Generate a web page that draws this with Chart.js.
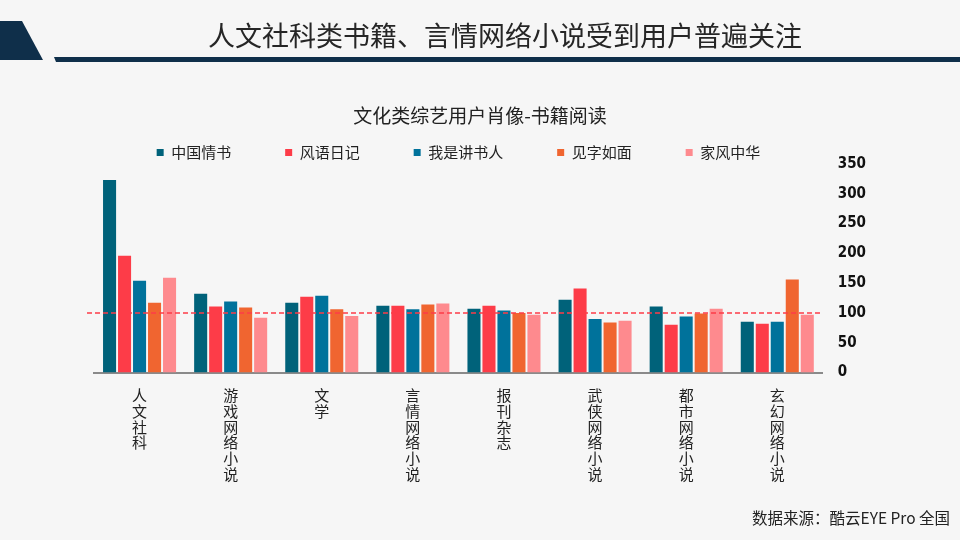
<!DOCTYPE html>
<html>
<head>
<meta charset="utf-8">
<script src="https://cdn.jsdelivr.net/npm/chart.js@4/dist/chart.umd.min.js"></script>
<style>
  body{margin:0;background:#f6f6f6;font-family:"Noto Sans CJK SC","Noto Sans",sans-serif;}
  #wrap{position:relative;width:960px;height:540px;overflow:hidden;}
  #chart{position:absolute;left:0;top:0;}
  .tag{position:absolute;left:0;top:21px;width:43px;height:39px;background:#0f2f4a;clip-path:polygon(0 0,22px 0,43px 39px,0 39px);}
  .bar{position:absolute;left:54px;top:57px;width:906px;height:5px;background:#0f2f4a;clip-path:polygon(0 0,100% 0,100% 100%,2px 100%);}
  .head{position:absolute;left:0;width:1010px;top:16px;text-align:center;font-size:27px;line-height:38px;color:#262626;}
  .ctitle{position:absolute;left:0;width:960px;top:102px;text-align:center;font-size:19px;line-height:26px;color:#222;}
  .src{position:absolute;right:10px;top:506px;font-size:15.5px;line-height:22px;color:#222;}
</style>
</head>
<body>
<div id="wrap">
  <canvas id="chart" width="960" height="540"></canvas>
  <div class="tag"></div>
  <div class="bar"></div>
  <div class="head">人文社科类书籍、言情网络小说受到用户普遍关注</div>
  <div class="ctitle">文化类综艺用户肖像-书籍阅读</div>
  <div class="src">数据来源：酷云EYE Pro 全国</div>
</div>
<script>

const categories=["人文社科","游戏网络小说","文学","言情网络小说","报刊杂志","武侠网络小说","都市网络小说","玄幻网络小说"];

const seriesNames=["中国情书","风语日记","我是讲书人","见字如面","家风中华"];

const zhongguoQingshu=[323,132,117,112,107,122,111,85];
const fengyuRiji=[196,111,127,112,112,141,80,82];
const woShiJiangshuren=[154,119,129,106,104,90,94,85];
const jianziRumian=[117,109,106,114,100,84,99,156];
const jiafengZhonghua=[159,92,95,116,97,87,107,97];

const yTicks=[0,50,100,150,200,250,300,350];
const refValue=100;

const colors=["#00627a","#fd3c48","#00729b","#f06530","#fe8a8e"];
const allValues=[zhongguoQingshu,fengyuRiji,woShiJiangshuren,jianziRumian,jiafengZhonghua];

// dashed reference line at 100
const refLine={
    id:"refLine",
    afterDatasetsDraw(chart){
        const {ctx,chartArea}=chart;
        const y=chart.scales.y.getPixelForValue(refValue);
        ctx.save();
        ctx.strokeStyle="#fd3c48";
        ctx.lineWidth=1.5;
        ctx.setLineDash([5,3]);
        ctx.beginPath();
        ctx.moveTo(chartArea.left-7,y);
        ctx.lineTo(chartArea.right,y);
        ctx.stroke();
        ctx.restore();
    }
};

// legend needs wide gaps between items but not the tall box that comes with it
const legendFit={
    id:"legendFit",
    beforeInit(chart){
        const fit=chart.legend.fit;
        chart.legend.fit=function(){
            fit.bind(chart.legend)();
            this.height-=6;
        };
    }
};

function createBarChart(){

    const canvas=document.getElementById("chart");

    new Chart(canvas,{
        type:"bar",
        data:{
            labels:categories.map(c=>c.split("")),
            datasets:seriesNames.map((name,i)=>({
                label:name,
                data:allValues[i],
                backgroundColor:colors[i],
                barPercentage:0.87,
                categoryPercentage:0.823
            }))
        },
        options:{
            responsive:false,
            animation:false,
            layout:{padding:{top:91,left:94,right:79,bottom:43}},
            plugins:{
                title:{display:false},
                tooltip:{enabled:false},
                legend:{
                    position:"top",
                    fullSize:false,
                    labels:{
                        boxWidth:7,
                        boxHeight:7,
                        padding:54,
                        color:"#222",
                        font:{family:"Noto Sans CJK SC",size:15}
                    }
                }
            },
            scales:{
                x:{
                    grid:{display:false,drawTicks:false},
                    border:{display:true,color:"#8a8a8a",width:2},
                    ticks:{
                        padding:15,
                        maxRotation:0,
                        autoSkip:false,
                        color:"#222",
                        font:{family:"Noto Sans CJK SC",size:15,lineHeight:1.05}
                    }
                },
                y:{
                    position:"right",
                    min:0,
                    max:350,
                    grid:{display:false,drawTicks:false},
                    border:{display:false},
                    afterBuildTicks(scale){
                        scale.ticks=yTicks.map(v=>({value:v}));
                    },
                    ticks:{
                        padding:15,
                        color:"#111",
                        font:{family:"DejaVu Sans Condensed",size:15,weight:"bold"}
                    }
                }
            }
        },
        plugins:[refLine,legendFit]
    });
}

createBarChart();

</script>
</body>
</html>
